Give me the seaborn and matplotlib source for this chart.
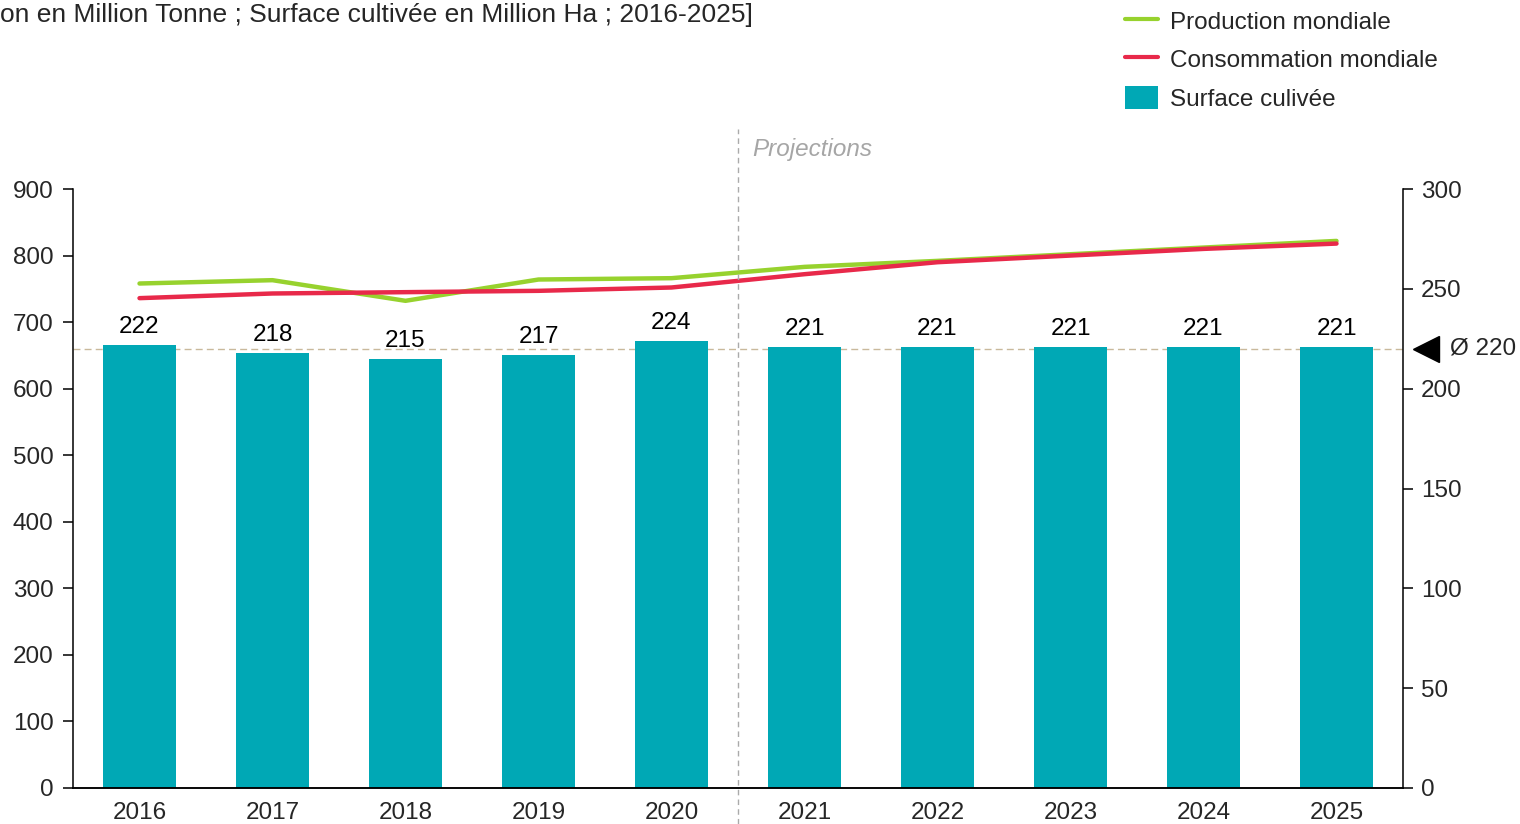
import numpy as np
import pandas as pd
import matplotlib
matplotlib.use("Agg")
import matplotlib.pyplot as plt
from matplotlib.lines import Line2D
from matplotlib.patches import Patch
import seaborn as sns

# Data
years = ["2016", "2017", "2018", "2019", "2020", "2021", "2022", "2023", "2024", "2025"]
production = [758, 763, 732, 764, 766, 783, 792, 802, 812, 822]      # million tonnes
consumption = [736, 743, 745, 747, 752, 772, 790, 800, 810, 818]     # million tonnes
surface = [222, 218, 215, 217, 224, 221, 221, 221, 221, 221]          # million ha
surface_avg = 220
first_projection = "2021"

left_ticks = [0, 100, 200, 300, 400, 500, 600, 700, 800, 900]
right_ticks = [0, 50, 100, 150, 200, 250, 300]

title_text = "on en Million Tonne ; Surface cultivée en Million Ha ; 2016-2025]"

GREEN = "#97D22E"
RED = "#E8294A"
TEAL = "#00A8B5"
FS = 17.5

df = pd.DataFrame({"year": years, "production": production,
                   "consumption": consumption, "surface": surface})
df["pos"] = np.arange(len(df))

sns.set_theme(style="white")
plt.rcParams["font.family"] = ["Liberation Sans", "DejaVu Sans"]

fig = plt.figure(figsize=(15.2, 8.24), dpi=100)
ax = fig.add_axes([73 / 1520, 1 - 788 / 824, (1403 - 73) / 1520, (788 - 189) / 824])
ax2 = ax.twinx()

# Bars on the right-hand scale (surface)
sns.barplot(data=df, x="pos", y="surface", ax=ax2, color=TEAL, width=0.55,
            saturation=1, native_scale=True, edgecolor="none")
ax2.bar_label(ax2.containers[0], labels=[str(v) for v in surface],
              padding=5, fontsize=FS, color="black")

# Lines on the left-hand scale (tonnes)
sns.lineplot(data=df, x="pos", y="production", ax=ax, color=GREEN, lw=3.2)
sns.lineplot(data=df, x="pos", y="consumption", ax=ax, color=RED, lw=3.2)

ax.set_zorder(ax2.get_zorder() + 1)
ax.patch.set_visible(False)

n = len(years)
ax.set_xlim(-0.5, n - 0.5)
ax.set_ylim(0, 900)
ax2.set_ylim(0, 300)
ax.set_xticks(range(n), years)
ax.set_yticks(left_ticks)
ax2.set_yticks(right_ticks)
ax.set_xlabel("")
ax.set_ylabel("")
ax2.set_ylabel("")
ax2.set_xlabel("")

for a in (ax, ax2):
    a.spines["top"].set_visible(False)
    for s in ("left", "right", "bottom"):
        a.spines[s].set_color("black")
        a.spines[s].set_linewidth(1.1)
    a.grid(False)
ax.spines["right"].set_visible(False)
ax2.spines["left"].set_visible(False)

ax.tick_params(axis="y", direction="out", length=7, width=1.1, color="black",
               labelsize=FS, pad=7, left=True)
ax.tick_params(axis="x", length=0, labelsize=FS, pad=10)
ax2.tick_params(axis="y", direction="out", length=7, width=1.1, color="black",
                labelsize=FS, pad=6, right=True)

# Average surface reference line with marker
ax2.axhline(surface_avg, color="#C9B99C", lw=1, ls=(0, (5, 3)), zorder=0.5)
ax2.plot([n - 0.5 + 0.17], [surface_avg], marker="<", color="black",
         markersize=19, clip_on=False)
ax2.text(n - 0.5 + 0.35, surface_avg, "Ø 220", fontsize=FS, va="center",
         ha="left", clip_on=False)

# Projection split
split = years.index(first_projection) - 0.5
ax.axvline(split, ymin=-0.06, ymax=1.1, color="#AAAAAA", lw=1,
           ls=(0, (4, 3)), clip_on=False)
ax.text(split + 0.11, 960, "Projections", fontsize=FS, style="italic",
        color="#A6A6A6", va="center", ha="left")

# Header
fig.text(0, 1 - 15 / 824, title_text, fontsize=19, ha="left", va="center")

# Legend
handles = [Line2D([], [], color=GREEN, lw=3),
           Line2D([], [], color=RED, lw=3),
           Patch(facecolor=TEAL, edgecolor="none")]
labels = ["Production mondiale", "Consommation mondiale", "Surface culivée"]
fig.legend(handles, labels, loc="upper left",
           bbox_to_anchor=(1125 / 1520, 1 - 9 / 824), frameon=False,
           fontsize=FS, handlelength=1.35, handleheight=1.1,
           handletextpad=0.5, labelspacing=0.55, borderpad=0,
           borderaxespad=0)

fig.savefig("out.png", dpi=100)
